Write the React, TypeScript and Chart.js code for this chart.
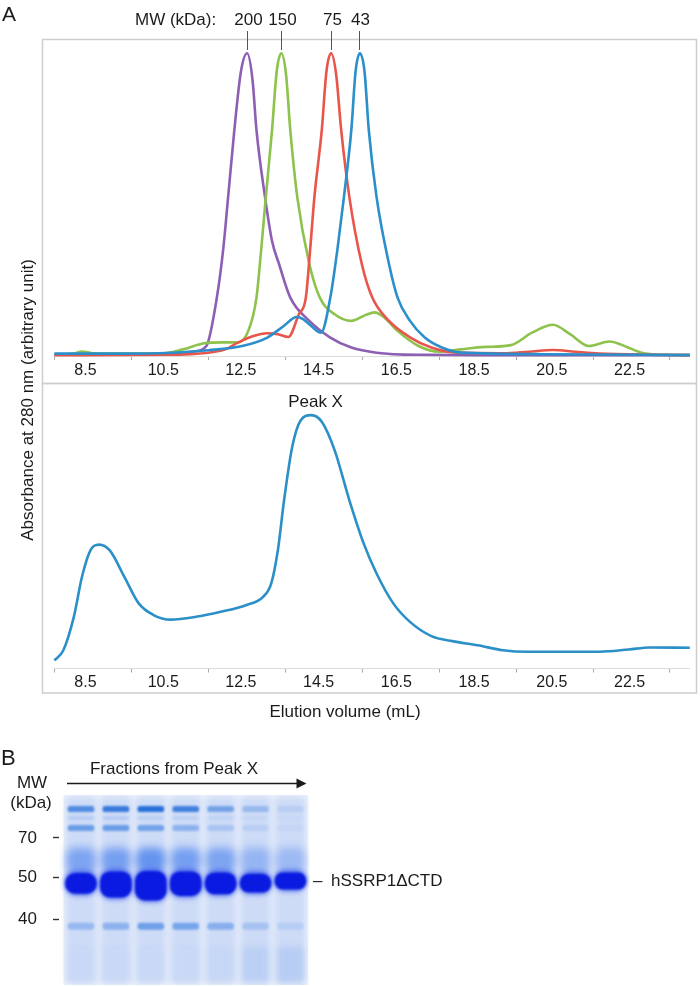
import React, { useEffect, useRef } from 'react';
import { Chart, registerables } from 'chart.js';

Chart.register(...registerables);

const FONT = '"Liberation Sans", Arial, Helvetica, sans-serif';
const TEXT = '#1b1b1b';

// ---------- shared elution-volume axis ----------
const volumeLabelValues = [8.5, 10.5, 12.5, 14.5, 16.5, 18.5, 20.5, 22.5];
const volumeLabels = ['8.5', '10.5', '12.5', '14.5', '16.5', '18.5', '20.5', '22.5'];
const volumeTickMarks = [7.7, 9.68, 11.66, 13.64, 15.62, 17.6, 19.58, 21.56, 23.54];

// ---------- panel A, top: MW standards ----------
const mwLabels = ['200', '150', '75', '43'];
const mwPeakVolumes = [12.66, 13.54, 14.82, 15.55];

const std200X = [7.7, 9.5, 10.8, 11.3, 11.61, 11.88, 12.05, 12.17, 12.33, 12.5, 12.66, 12.8, 12.9, 13.12, 13.3, 13.48, 13.77, 14.26, 14.8, 15.34, 15.99, 17.0, 19.0, 24.05];
const std200Y = [0.5, 0.6, 0.8, 1.5, 3.3, 19.3, 36, 52.5, 74.6, 94, 100, 91, 74.6, 52.5, 38, 30.4, 19.3, 11.6, 6.1, 2.8, 1.1, 0.4, 0.3, 0.3];

const std150X = [7.7, 8.2, 8.41, 8.7, 9.5, 10.5, 11.01, 11.55, 12.0, 12.42, 12.69, 12.9, 13.02, 13.14, 13.3, 13.42, 13.54, 13.66, 13.77, 13.95, 14.26, 14.53, 14.91, 15.34, 15.7, 15.94, 16.2, 16.53, 17.07, 17.61, 18.15, 18.8, 19.45, 19.99, 20.53, 20.97, 21.45, 21.99, 22.43, 22.81, 23.35, 24.05];
const std150Y = [0.5, 0.8, 1.5, 0.9, 0.8, 0.9, 2.2, 4.2, 4.5, 4.5, 8.3, 19.3, 35, 52.5, 74.6, 94, 100, 93, 74.6, 52.5, 30.4, 19.3, 13.8, 11.6, 13.5, 14.4, 12.6, 8.3, 3.3, 1.4, 2.2, 3.0, 3.6, 7.7, 10.3, 7.2, 3.3, 4.8, 3.0, 1.1, 0.4, 0.3];

const std75X = [7.7, 8.41, 10.58, 11.66, 12.1, 12.42, 12.8, 13.18, 13.45, 13.72, 13.99, 14.17, 14.28, 14.39, 14.58, 14.7, 14.82, 14.95, 15.08, 15.29, 15.61, 15.88, 16.31, 16.86, 17.4, 18.05, 19.24, 19.9, 20.53, 21.1, 21.72, 23.02, 24.05];
const std75Y = [0.3, 0.3, 0.4, 1.1, 2.2, 4.4, 6.5, 7.5, 7.2, 6.3, 13.8, 19.3, 35, 52.5, 74.6, 94, 100, 93, 74.6, 52.5, 30.4, 19.3, 11.6, 6.1, 2.8, 1.1, 0.9, 1.4, 2.0, 1.4, 0.8, 0.4, 0.3];

const std43X = [7.7, 9.5, 10.58, 11.66, 12.53, 13.18, 13.61, 13.93, 14.1, 14.31, 14.56, 14.8, 14.98, 15.15, 15.34, 15.45, 15.56, 15.68, 15.79, 15.99, 16.31, 16.53, 16.85, 17.23, 17.67, 18.15, 20.32, 24.05];
const std43Y = [0.8, 0.8, 1.0, 1.9, 3.3, 6.1, 10, 12.9, 12.2, 9.9, 7.7, 19.3, 35, 52.5, 74.6, 94, 100, 94, 74.6, 52.5, 30.4, 19.3, 11.6, 6.1, 2.8, 1.1, 0.6, 0.3];

// ---------- panel A, bottom: sample ----------
const sampleX = [7.7, 7.93, 8.2, 8.41, 8.63, 8.85, 9.12, 9.5, 9.87, 10.25, 10.69, 11.34, 11.98, 12.63, 13.07, 13.28, 13.45, 13.61, 13.82, 14.04, 14.31, 14.58, 14.91, 15.29, 15.66, 15.99, 16.42, 16.85, 17.4, 17.94, 18.59, 19.24, 19.88, 20.86, 21.73, 22.48, 23.02, 24.05];
const sampleY = [3.2, 7.2, 20.4, 36.2, 46.7, 48.9, 46.7, 36.2, 25.7, 21.1, 19.3, 20.4, 22.4, 25.0, 28.3, 33.6, 46.7, 66.4, 87.5, 98, 100, 97.4, 86.2, 66.4, 49.3, 37.5, 25.7, 18.4, 12.8, 10.8, 9.2, 7.2, 6.6, 6.6, 6.6, 7.5, 8.3, 8.2];
const peakXLabel = 'Peak X';
const peakXLabelVolume = 14.42;

// ---------- panel B: SDS-PAGE gel (migration 0 = top of gel, 100 = bottom) ----------
const laneNumbers = [1, 2, 3, 4, 5, 6, 7];
const gelMarkerLabels = ['70', '50', '40'];
const gelMarkerPositions = [22.6, 43.2, 65.3];
const mainBandTop = [41.2, 40.4, 40.2, 40.4, 40.9, 41.6, 40.9];
const mainBandBottom = [51.8, 53.8, 55.3, 53.0, 52.1, 51.2, 49.6];
const topBandAlpha = [0.7, 0.85, 0.95, 0.8, 0.5, 0.3, 0.12];
const secondBandAlpha = [0.6, 0.6, 0.55, 0.4, 0.22, 0.12, 0.05];
const faintBandAlpha = [0.18, 0.18, 0.15, 0.12, 0.1, 0.06, 0.04];
const lowerBandAlpha = [0.35, 0.42, 0.6, 0.55, 0.45, 0.25, 0.15];
const smearAlpha = [0.5, 0.55, 0.65, 0.55, 0.5, 0.35, 0.3];
const bottomSmearAlpha = [0.03, 0.03, 0.03, 0.03, 0.05, 0.13, 0.15];

const GEL_CANVAS_H = 1020;

const pts = (xs: number[], ys: number[]) => xs.map((x, i) => ({ x, y: ys[i] }));

function volumeAxis(labelPad: number) {
  return {
    type: 'linear',
    min: 7.7,
    max: 24.05,
    afterBuildTicks: (s: any) => {
      s.ticks = [...volumeTickMarks, ...volumeLabelValues].sort((a, b) => a - b).map((v) => ({ value: v }));
    },
    afterFit: (s: any) => {
      s.height = 30;
    },
    ticks: {
      autoSkip: false,
      maxRotation: 0,
      minRotation: 0,
      padding: labelPad,
      color: TEXT,
      font: { family: FONT, size: 16 },
      callback: (v: number) => {
        const i = volumeLabelValues.indexOf(v);
        return i >= 0 ? volumeLabels[i] : '';
      },
    },
    grid: {
      display: true,
      drawOnChartArea: false,
      drawTicks: true,
      tickLength: 4,
      tickWidth: 1,
      tickColor: (c: any) => (c.tick && volumeTickMarks.includes(c.tick.value) ? '#a9a9a9' : 'rgba(0,0,0,0)'),
    },
    border: { display: true, color: '#dcdcdc', width: 1 },
  };
}

const lineStyle = (color: string, order: number) => ({
  borderColor: color,
  borderWidth: 2.6,
  pointRadius: 0,
  fill: false,
  cubicInterpolationMode: 'monotone',
  order,
  clip: false,
});

function topConfig(): any {
  const plugin = {
    id: 'panelATop',
    beforeDraw(chart: any) {
      const ctx = chart.ctx;
      ctx.save();
      ctx.strokeStyle = '#cdcdcd';
      ctx.lineWidth = 1.5;
      ctx.strokeRect(42.5, 39.5, 654, 344);
      ctx.restore();
    },
    afterDraw(chart: any) {
      const ctx = chart.ctx;
      const xs = chart.scales.x;
      ctx.save();
      ctx.fillStyle = TEXT;
      ctx.font = `21px ${FONT}`;
      ctx.textAlign = 'left';
      ctx.textBaseline = 'alphabetic';
      ctx.fillText('A', 2, 21);
      ctx.font = `17px ${FONT}`;
      ctx.textBaseline = 'middle';
      ctx.fillText('MW (kDa):', 135, 20);
      ctx.textAlign = 'center';
      ctx.strokeStyle = '#555';
      ctx.lineWidth = 1;
      mwLabels.forEach((lab, i) => {
        const px = Math.round(xs.getPixelForValue(mwPeakVolumes[i])) + 0.5;
        ctx.fillText(lab, px + 1, 20);
        ctx.beginPath();
        ctx.moveTo(px, 31);
        ctx.lineTo(px, 50);
        ctx.stroke();
      });
      // shared y title
      ctx.translate(28, 400);
      ctx.rotate(-Math.PI / 2);
      ctx.fillText('Absorbance at 280 nm (arbitrary unit)', 0, 0);
      ctx.restore();
    },
  };
  return {
    type: 'line',
    data: {
      datasets: [
        { label: '43 kDa', data: pts(std43X, std43Y), ...lineStyle('#2a8fca', 0) },
        { label: '75 kDa', data: pts(std75X, std75Y), ...lineStyle('#e8564b', 1) },
        { label: '150 kDa', data: pts(std150X, std150Y), ...lineStyle('#8dc24c', 2) },
        { label: '200 kDa', data: pts(std200X, std200Y), ...lineStyle('#8d5fb4', 3) },
      ],
    },
    options: {
      responsive: false,
      animation: false,
      events: [],
      layout: { padding: { top: 40, left: 54.4, right: 10.2, bottom: 600 } },
      plugins: { legend: { display: false }, tooltip: { enabled: false } },
      scales: {
        x: volumeAxis(1),
        y: { type: 'linear', display: false, min: 0, max: 104.4 },
      },
    },
    plugins: [plugin],
  };
}

function bottomConfig(): any {
  const plugin = {
    id: 'panelABottom',
    beforeDraw(chart: any) {
      const ctx = chart.ctx;
      ctx.save();
      ctx.strokeStyle = '#cdcdcd';
      ctx.lineWidth = 1.5;
      ctx.strokeRect(42.5, 383.5, 654, 309.5);
      ctx.restore();
    },
    afterDraw(chart: any) {
      const ctx = chart.ctx;
      const xs = chart.scales.x;
      const ys = chart.scales.y;
      ctx.save();
      ctx.fillStyle = TEXT;
      ctx.font = `17px ${FONT}`;
      ctx.textAlign = 'center';
      ctx.textBaseline = 'middle';
      ctx.fillText(peakXLabel, xs.getPixelForValue(peakXLabelVolume), ys.getPixelForValue(100) - 12.5);
      ctx.fillText('Elution volume (mL)', 345, 712);
      ctx.restore();
    },
  };
  return {
    type: 'line',
    data: {
      datasets: [{ label: 'Peak X sample', data: pts(sampleX, sampleY), ...lineStyle('#2b8fc8', 0) }],
    },
    options: {
      responsive: false,
      animation: false,
      events: [],
      layout: { padding: { top: 405, left: 54.4, right: 10.2, bottom: 287.5 } },
      plugins: { legend: { display: false }, tooltip: { enabled: false } },
      scales: {
        x: volumeAxis(0),
        y: { type: 'linear', display: false, min: 0, max: 104 },
      },
    },
    plugins: [plugin],
  };
}

function bandDataset(label: string, top: number[] | number, bottom: number[] | number, colors: string[], thickness: number, radius: number, blur: number, order: number) {
  return {
    label,
    data: laneNumbers.map((lane, i) => ({
      x: lane,
      y: [Array.isArray(top) ? top[i] : top, Array.isArray(bottom) ? bottom[i] : bottom],
    })),
    backgroundColor: colors,
    borderWidth: 0,
    borderSkipped: false,
    borderRadius: radius,
    barThickness: thickness,
    grouped: false,
    order,
    gelBlur: blur,
  };
}

function gelConfig(): any {
  const blurPlugin = {
    id: 'gelBlur',
    beforeDatasetsDraw(chart: any) {
      const { ctx, scales } = chart;
      const x0 = scales.x.getPixelForValue(0.5);
      const x1 = scales.x.getPixelForValue(7.5);
      const y0 = scales.y.getPixelForValue(0);
      const y1 = scales.y.getPixelForValue(100);
      ctx.save();
      ctx.fillStyle = '#ecf1fb';
      ctx.fillRect(x0, y0, x1 - x0, y1 - y0);
      ctx.restore();
    },
    beforeDatasetDraw(chart: any, args: any) {
      const ds = chart.data.datasets[args.index];
      chart.ctx.save();
      if (ds.gelBlur) chart.ctx.filter = `blur(${ds.gelBlur}px)`;
    },
    afterDatasetDraw(chart: any) {
      chart.ctx.restore();
    },
    afterDraw(chart: any) {
      const ctx = chart.ctx;
      const ys = chart.scales.y;
      ctx.save();
      ctx.fillStyle = TEXT;
      ctx.strokeStyle = TEXT;
      ctx.font = `22px ${FONT}`;
      ctx.textAlign = 'left';
      ctx.textBaseline = 'alphabetic';
      ctx.fillText('B', 1, 765);
      ctx.font = `17px ${FONT}`;
      ctx.textBaseline = 'middle';
      ctx.textAlign = 'center';
      ctx.fillText('Fractions from Peak X', 174, 769);
      ctx.fillText('MW', 32, 783);
      ctx.fillText('(kDa)', 31, 803);
      // arrow
      ctx.lineWidth = 1.5;
      ctx.beginPath();
      ctx.moveTo(67, 783.5);
      ctx.lineTo(298, 783.5);
      ctx.stroke();
      ctx.beginPath();
      ctx.moveTo(296.5, 778.5);
      ctx.lineTo(306.5, 783.5);
      ctx.lineTo(296.5, 788.5);
      ctx.closePath();
      ctx.fill();
      // band annotation
      const yb = ys.getPixelForValue((mainBandTop[6] + mainBandBottom[6]) / 2);
      ctx.textAlign = 'left';
      ctx.fillText('–', 313, yb);
      ctx.fillText('hSSRP1ΔCTD', 331, yb);
      ctx.restore();
    },
  };
  const rgba = (r: number, g: number, b: number) => (alphas: number[]) => alphas.map((a) => `rgba(${r},${g},${b},${a})`);
  const same = (c: string) => laneNumbers.map(() => c);
  return {
    type: 'bar',
    data: {
      datasets: [
        bandDataset('hSSRP1ΔCTD core', mainBandTop, mainBandBottom, same('#0a1ae0'), 31, 10, 0.8, 0),
        bandDataset('hSSRP1ΔCTD halo', mainBandTop.map((v) => v - 1.5), mainBandBottom.map((v) => v + 1), same('rgba(25,60,235,0.6)'), 33, 12, 2.5, 1),
        bandDataset('smear', 28, mainBandTop, rgba(45, 110, 235)(smearAlpha), 29, 8, 4, 2),
        bandDataset('band ~95 kDa', 6.0, 8.8, rgba(30, 105, 215)(topBandAlpha), 26, 3, 1, 3),
        bandDataset('band ~85 kDa', 16.0, 18.8, rgba(40, 115, 220)(secondBandAlpha), 26, 3, 1, 4),
        bandDataset('band ~90 kDa', 11.3, 12.8, rgba(60, 130, 225)(faintBandAlpha), 26, 3, 1, 5),
        bandDataset('band ~38 kDa', 67.4, 70.8, rgba(50, 120, 225)(lowerBandAlpha), 26, 3, 1.3, 6),
        bandDataset('bottom smear', 80, 99, rgba(70, 130, 225)(bottomSmearAlpha), 26, 3, 3, 7),
        bandDataset('lanes', 1, 99, same('rgba(115,160,235,0.26)'), 30, 4, 3, 8),
      ],
    },
    options: {
      responsive: false,
      animation: false,
      events: [],
      layout: { padding: { top: 795, bottom: GEL_CANVAS_H - 985, left: 0, right: 390 } },
      plugins: { legend: { display: false }, tooltip: { enabled: false } },
      scales: {
        x: { type: 'linear', display: false, offset: false, min: 0.37, max: 7.56, grid: { offset: false } },
        y: {
          type: 'linear',
          reverse: true,
          min: 0,
          max: 100,
          afterBuildTicks: (s: any) => {
            s.ticks = gelMarkerPositions.map((v) => ({ value: v }));
          },
          afterFit: (s: any) => {
            s.width = 59;
          },
          ticks: {
            autoSkip: false,
            padding: 16,
            color: TEXT,
            font: { family: FONT, size: 17 },
            callback: (v: number) => {
              const i = gelMarkerPositions.indexOf(v);
              return i >= 0 ? gelMarkerLabels[i] : '';
            },
          },
          grid: { drawOnChartArea: false, tickLength: 6, tickWidth: 1.4, tickColor: '#333' },
          border: { display: false },
        },
      },
    },
    plugins: [blurPlugin],
  };
}

function ChartCanvas({ make, height }: { make: () => any; height: number }) {
  const ref = useRef<HTMLCanvasElement>(null);
  useEffect(() => {
    const chart = new Chart(ref.current as HTMLCanvasElement, make());
    return () => chart.destroy();
  }, [make]);
  return (
    <canvas
      ref={ref}
      width={700}
      height={height}
      style={{ position: 'absolute', left: 0, top: 0, width: 700, height }}
    />
  );
}

export default function App() {
  return (
    <div style={{ position: 'absolute', left: 0, top: 0, width: 700, height: 986, background: '#fff', overflow: 'hidden' }}>
      <ChartCanvas make={topConfig} height={986} />
      <ChartCanvas make={bottomConfig} height={986} />
      <ChartCanvas make={gelConfig} height={GEL_CANVAS_H} />
    </div>
  );
}
